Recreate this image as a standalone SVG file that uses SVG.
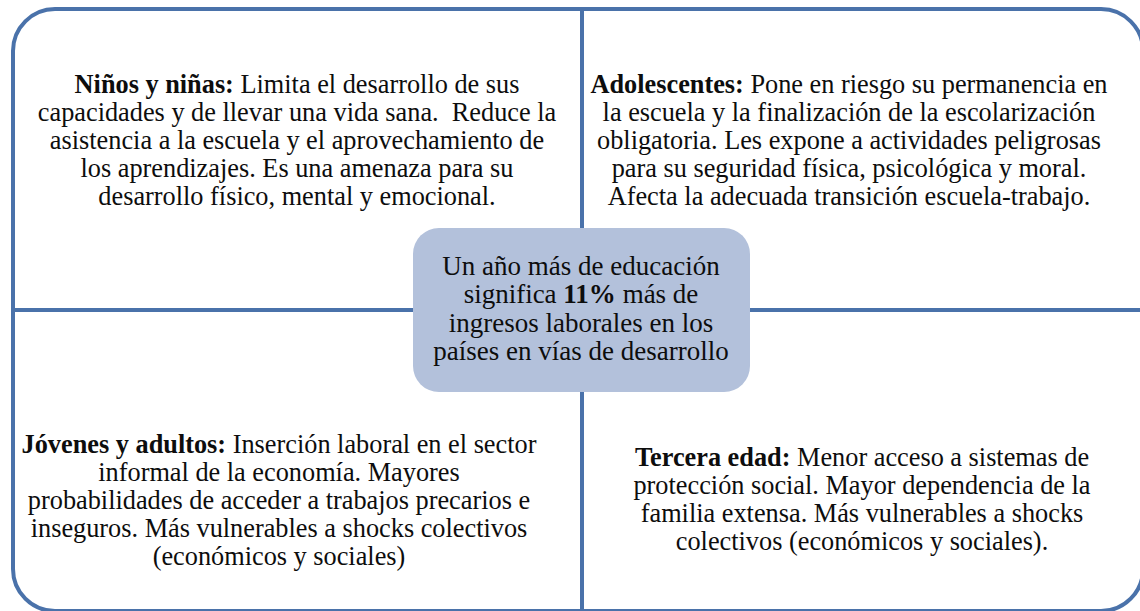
<svg xmlns="http://www.w3.org/2000/svg" width="1140" height="611" viewBox="0 0 1140 611">
  <style>
    .frame { fill: #ffffff; stroke: #4a72aa; stroke-width: 4; }
    .line { stroke: #4a72aa; stroke-width: 4; fill: none; }
    .center { fill: #b3c1db; stroke: none; }
    .t { font-family: "Liberation Serif", "Times New Roman", serif; font-size: 26.3px; fill: #0d0d0d; text-anchor: middle; white-space: pre; }
    .c { font-size: 27px; }
    .b { font-weight: bold; }
  </style>
  <rect width="1140" height="611" fill="#ffffff"/>
  <rect class="frame" x="13" y="9" width="1130" height="602" rx="42" ry="42"/>
  <g id="connectors">
    <line class="line" x1="582" y1="9" x2="582" y2="229"/>
    <line class="line" x1="582" y1="391" x2="582" y2="611"/>
    <line class="line" x1="13" y1="310" x2="414" y2="310"/>
    <line class="line" x1="749" y1="310" x2="1143" y2="310"/>
  </g>
  <g id="ninos">
    <text class="t" x="297" y="93"><tspan class="b">Niños y niñas:</tspan> Limita el desarrollo de sus</text>
    <text class="t" x="297" y="121">capacidades y de llevar una vida sana.  Reduce la</text>
    <text class="t" x="297" y="149">asistencia a la escuela y el aprovechamiento de</text>
    <text class="t" x="297" y="177">los aprendizajes. Es una amenaza para su</text>
    <text class="t" x="297" y="205">desarrollo físico, mental y emocional.</text>
  </g>
  <g id="adolescentes">
    <text class="t" x="849" y="93"><tspan class="b">Adolescentes:</tspan> Pone en riesgo su permanencia en</text>
    <text class="t" x="849" y="121">la escuela y la finalización de la escolarización</text>
    <text class="t" x="849" y="149">obligatoria. Les expone a actividades peligrosas</text>
    <text class="t" x="849" y="177">para su seguridad física, psicológica y moral.</text>
    <text class="t" x="849" y="205">Afecta la adecuada transición escuela-trabajo.</text>
  </g>
  <g id="centro">
    <rect class="center" x="413" y="228" width="337" height="164" rx="26" ry="26"/>
    <text class="t c" x="581" y="275">Un año más de educación</text>
    <text class="t c" x="581" y="303">significa <tspan class="b">11%</tspan> más de</text>
    <text class="t c" x="581" y="332">ingresos laborales en los</text>
    <text class="t c" x="581" y="360">países en vías de desarrollo</text>
  </g>
  <g id="jovenes">
    <text class="t" x="279" y="453"><tspan class="b">Jóvenes y adultos:</tspan> Inserción laboral en el sector</text>
    <text class="t" x="279" y="481">informal de la economía. Mayores</text>
    <text class="t" x="279" y="509">probabilidades de acceder a trabajos precarios e</text>
    <text class="t" x="279" y="537">inseguros. Más vulnerables a shocks colectivos</text>
    <text class="t" x="279" y="565">(económicos y sociales)</text>
  </g>
  <g id="tercera">
    <text class="t" x="862" y="466"><tspan class="b">Tercera edad:</tspan> Menor acceso a sistemas de</text>
    <text class="t" x="862" y="494">protección social. Mayor dependencia de la</text>
    <text class="t" x="862" y="522">familia extensa. Más vulnerables a shocks</text>
    <text class="t" x="862" y="550">colectivos (económicos y sociales).</text>
  </g>
</svg>
